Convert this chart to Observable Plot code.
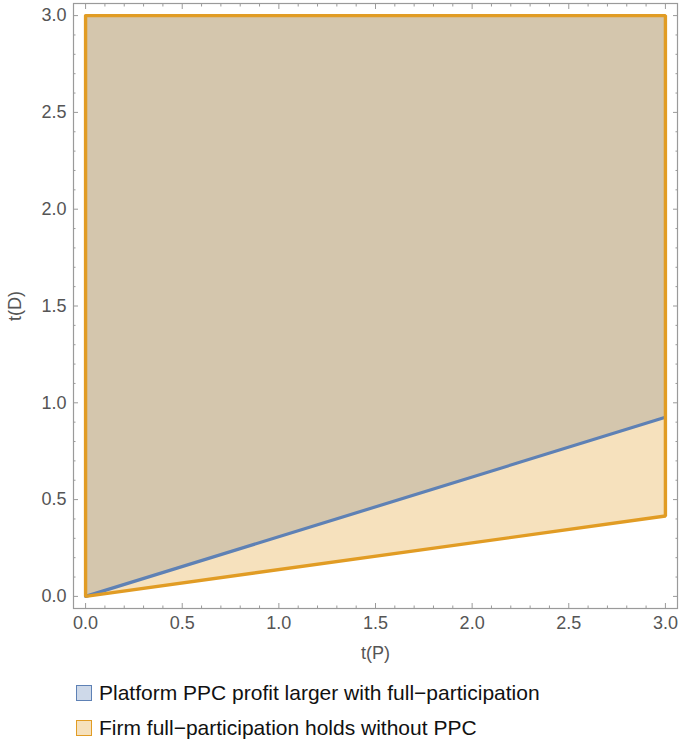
<!DOCTYPE html>
<html>
<head>
<meta charset="utf-8">
<script src="https://cdn.jsdelivr.net/npm/d3@7"></script>
<script src="https://cdn.jsdelivr.net/npm/@observablehq/plot@0.6"></script>
<style>
  body { margin: 0; background: #fff; font-family: "Liberation Sans", Arial, sans-serif; }
  #chart svg { display: block; }
  .legend { margin: 10px 0 0 76px; }
  .legend-row { display: flex; align-items: center; height: 35px; font-size: 21px; color: #111; }
  .swatch { width: 14px; height: 14px; margin-right: 7px; border: 1.5px solid; }
</style>
</head>
<body>
<div id="chart"></div>
<div class="legend" id="legend"></div>
<script>
// Horizontal axis values t(P) at the region boundary ends
const tP = [0, 3];
// Lower boundary of "Platform PPC profit larger with full-participation"
const platformBoundary = [0, 0.925];
// Lower boundary of "Firm full-participation holds without PPC"
const firmBoundary = [0, 0.415];
// Upper limit of the plotted range of t(D)
const tDMax = 3;

const majorTicks = [0, 0.5, 1, 1.5, 2, 2.5, 3];
const tickLabels = ["0.0", "0.5", "1.0", "1.5", "2.0", "2.5", "3.0"];
const minorTicks = [0.1, 0.2, 0.3, 0.4, 0.6, 0.7, 0.8, 0.9, 1.1, 1.2, 1.3, 1.4,
  1.6, 1.7, 1.8, 1.9, 2.1, 2.2, 2.3, 2.4, 2.6, 2.7, 2.8, 2.9];

const seriesNames = ["Platform PPC profit larger with full\u2212participation",
                     "Firm full\u2212participation holds without PPC"];
const blue = "#5e81b5";
const orange = "#e19c24";

const platform = tP.map((x, i) => ({x, lo: platformBoundary[i], hi: tDMax}));
const firm = tP.map((x, i) => ({x, lo: firmBoundary[i], hi: tDMax}));
// Closed outline of the firm region
const firmOutline = [
  {x: tP[0], y: tDMax},
  {x: tP[0], y: firmBoundary[0]},
  {x: tP[1], y: firmBoundary[1]},
  {x: tP[1], y: tDMax},
  {x: tP[0], y: tDMax}
];

const fmt = d => tickLabels[majorTicks.indexOf(d)];
const axisColor = "#9a9a9a";
const textColor = "#555";

const chart = Plot.plot({
  width: 680,
  height: 665,
  marginLeft: 73,
  marginRight: 3,
  marginTop: 3,
  marginBottom: 57,
  style: {fontFamily: "Liberation Sans, Arial, sans-serif", color: textColor},
  x: {domain: [-0.0625, 3.0625]},
  y: {domain: [-0.0625, 3.0625]},
  marks: [
    Plot.areaY(platform, {x: "x", y1: "lo", y2: "hi", fill: blue, fillOpacity: 0.3}),
    Plot.areaY(firm, {x: "x", y1: "lo", y2: "hi", fill: orange, fillOpacity: 0.3}),
    Plot.line(platform, {x: "x", y: "lo", stroke: blue, strokeWidth: 3.2}),
    Plot.line(firmOutline, {x: "x", y: "y", stroke: orange, strokeWidth: 3.4, strokeLinejoin: "miter"}),
    Plot.frame({stroke: axisColor, strokeWidth: 1.2}),
    // major ticks with labels (bottom, left)
    Plot.axisX(majorTicks, {anchor: "bottom", tickSize: -5, tickPadding: 13, tickFormat: fmt, fontSize: 18,
      stroke: axisColor, fill: textColor, label: "t(P)", labelAnchor: "center", labelOffset: 50, labelArrow: "none"}),
    Plot.axisY(majorTicks, {anchor: "left", tickSize: -5, tickPadding: 12, tickFormat: fmt, fontSize: 18,
      stroke: axisColor, fill: textColor, label: "t(D)", labelAnchor: "center", labelOffset: 65, labelArrow: "none"}),
    // major ticks on the opposite sides
    Plot.axisX(majorTicks, {anchor: "top", tickSize: -5, tickFormat: () => "", stroke: axisColor, label: null}),
    Plot.axisY(majorTicks, {anchor: "right", tickSize: -5, tickFormat: () => "", stroke: axisColor, label: null}),
    // minor ticks
    Plot.axisX(minorTicks, {anchor: "bottom", tickSize: -2.5, tickFormat: () => "", stroke: axisColor, label: null}),
    Plot.axisX(minorTicks, {anchor: "top", tickSize: -2.5, tickFormat: () => "", stroke: axisColor, label: null}),
    Plot.axisY(minorTicks, {anchor: "left", tickSize: -2.5, tickFormat: () => "", stroke: axisColor, label: null}),
    Plot.axisY(minorTicks, {anchor: "right", tickSize: -2.5, tickFormat: () => "", stroke: axisColor, label: null})
  ]
});
document.getElementById("chart").append(chart);

// Legend below the plot
const legend = document.getElementById("legend");
[[blue, seriesNames[0]], [orange, seriesNames[1]]].forEach(([c, name]) => {
  const row = document.createElement("div");
  row.className = "legend-row";
  const sw = document.createElement("span");
  sw.className = "swatch";
  sw.style.borderColor = c;
  sw.style.background = d3.color(c).copy({opacity: 0.3}).formatRgb();
  const label = document.createElement("span");
  label.textContent = name;
  row.append(sw, label);
  legend.append(row);
});
</script>
</body>
</html>
